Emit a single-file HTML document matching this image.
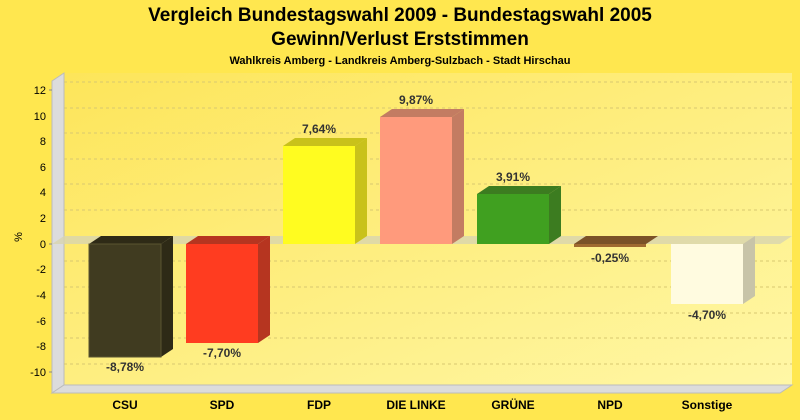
<!DOCTYPE html>
<html><head><meta charset="utf-8"><style>
html,body{margin:0;padding:0;background:#FFE74F;}
svg{display:block;font-family:"Liberation Sans",Arial,sans-serif;}
</style></head><body>
<svg width="800" height="420" viewBox="0 0 800 420">
<defs>
<linearGradient id="bg" x1="0" y1="0" x2="1" y2="1">
<stop offset="0" stop-color="#FDE55A"/><stop offset="1" stop-color="#FFF7A6"/>
</linearGradient>
</defs>
<rect width="800" height="420" fill="#FFE74F"/>
<text x="400" y="21" text-anchor="middle" font-size="19" font-weight="bold">Vergleich Bundestagswahl 2009 - Bundestagswahl 2005</text>
<text x="400" y="45" text-anchor="middle" font-size="19" font-weight="bold">Gewinn/Verlust Erststimmen</text>
<text x="400" y="64" text-anchor="middle" font-size="11" font-weight="bold">Wahlkreis Amberg - Landkreis Amberg-Sulzbach - Stadt Hirschau</text>
<rect x="64" y="73" width="728" height="312" fill="url(#bg)"/>
<polygon points="52,81 64,73 64,385 52,393" fill="#DCDCDC" stroke="#BBB" stroke-width="1"/>
<polygon points="52,393 64,385 792,385 780,393" fill="#DCDCDC" stroke="#BBB" stroke-width="1"/>
<g stroke="#D8C870" stroke-dasharray="3,3" stroke-width="1">
<line x1="64" y1="82" x2="792" y2="82"/><line x1="64" y1="108" x2="792" y2="108"/>
<line x1="64" y1="133" x2="792" y2="133"/><line x1="64" y1="159" x2="792" y2="159"/>
<line x1="64" y1="184" x2="792" y2="184"/><line x1="64" y1="210" x2="792" y2="210"/>
<line x1="64" y1="261" x2="792" y2="261"/><line x1="64" y1="287" x2="792" y2="287"/>
<line x1="64" y1="313" x2="792" y2="313"/><line x1="64" y1="338" x2="792" y2="338"/>
<line x1="64" y1="364" x2="792" y2="364"/>
</g>
<polygon points="52,244 64,236 792,236 780,244" fill="#D8D4B0" opacity="0.8"/>
<g font-size="11" text-anchor="end">
<text x="46" y="94">12</text><text x="46" y="120">10</text><text x="46" y="145">8</text>
<text x="46" y="171">6</text><text x="46" y="196">4</text><text x="46" y="222">2</text>
<text x="46" y="248">0</text><text x="46" y="273">-2</text><text x="46" y="299">-4</text>
<text x="46" y="325">-6</text><text x="46" y="350">-8</text><text x="46" y="376">-10</text>
</g>
<g stroke="#888"><line x1="49" y1="90" x2="52" y2="90"/><line x1="49" y1="244" x2="52" y2="244"/><line x1="49" y1="372" x2="52" y2="372"/></g>
<text x="22" y="237" font-size="11" transform="rotate(-90 22 237)" text-anchor="middle">%</text>
<polygon points="161,244 173,236 173,349 161,357" fill="#2E2A16"/>
<polygon points="89,244 101,236 173,236 161,244" fill="#2E2A16"/>
<rect x="89" y="244" width="72" height="113" fill="#403B20" stroke="#5A5430" stroke-width="1"/>
<polygon points="258,244 270,236 270,335 258,343" fill="#B63520"/>
<polygon points="186,244 198,236 270,236 258,244" fill="#B63520"/>
<rect x="186" y="244" width="72" height="99" fill="#FF3C20"/>
<polygon points="355,146 367,138 367,236 355,244" fill="#C9C21A"/>
<polygon points="283,146 295,138 367,138 355,146" fill="#C9C21A"/>
<rect x="283" y="146" width="72" height="98" fill="#FFFC20"/>
<polygon points="452,117 464,109 464,236 452,244" fill="#C37C62"/>
<polygon points="380,117 392,109 464,109 452,117" fill="#C37C62"/>
<rect x="380" y="117" width="72" height="127" fill="#FF9A7C"/>
<polygon points="549,194 561,186 561,236 549,244" fill="#3C7C20"/>
<polygon points="477,194 489,186 561,186 549,194" fill="#3C7C20"/>
<rect x="477" y="194" width="72" height="50" fill="#40A020"/>
<polygon points="574,244 586,236 658,236 646,244" fill="#7A5228"/>
<rect x="574" y="244" width="72" height="3" fill="#A06A30"/>
<polygon points="743,244 755,236 755,296 743,304" fill="#C8C4A8"/>
<rect x="671" y="244" width="72" height="60" fill="#FFFBE0"/>
<g font-size="12" font-weight="bold" fill="#333" text-anchor="middle">
<text x="125" y="371">-8,78%</text>
<text x="222" y="357">-7,70%</text>
<text x="319" y="133">7,64%</text>
<text x="416" y="104">9,87%</text>
<text x="513" y="181">3,91%</text>
<text x="610" y="262">-0,25%</text>
<text x="707" y="319">-4,70%</text>
</g>
<g font-size="12" font-weight="bold" text-anchor="middle">
<text x="125" y="409">CSU</text><text x="222" y="409">SPD</text><text x="319" y="409">FDP</text>
<text x="416" y="409">DIE LINKE</text><text x="513" y="409">GRÜNE</text><text x="610" y="409">NPD</text>
<text x="707" y="409">Sonstige</text>
</g>
</svg>
</body></html>
